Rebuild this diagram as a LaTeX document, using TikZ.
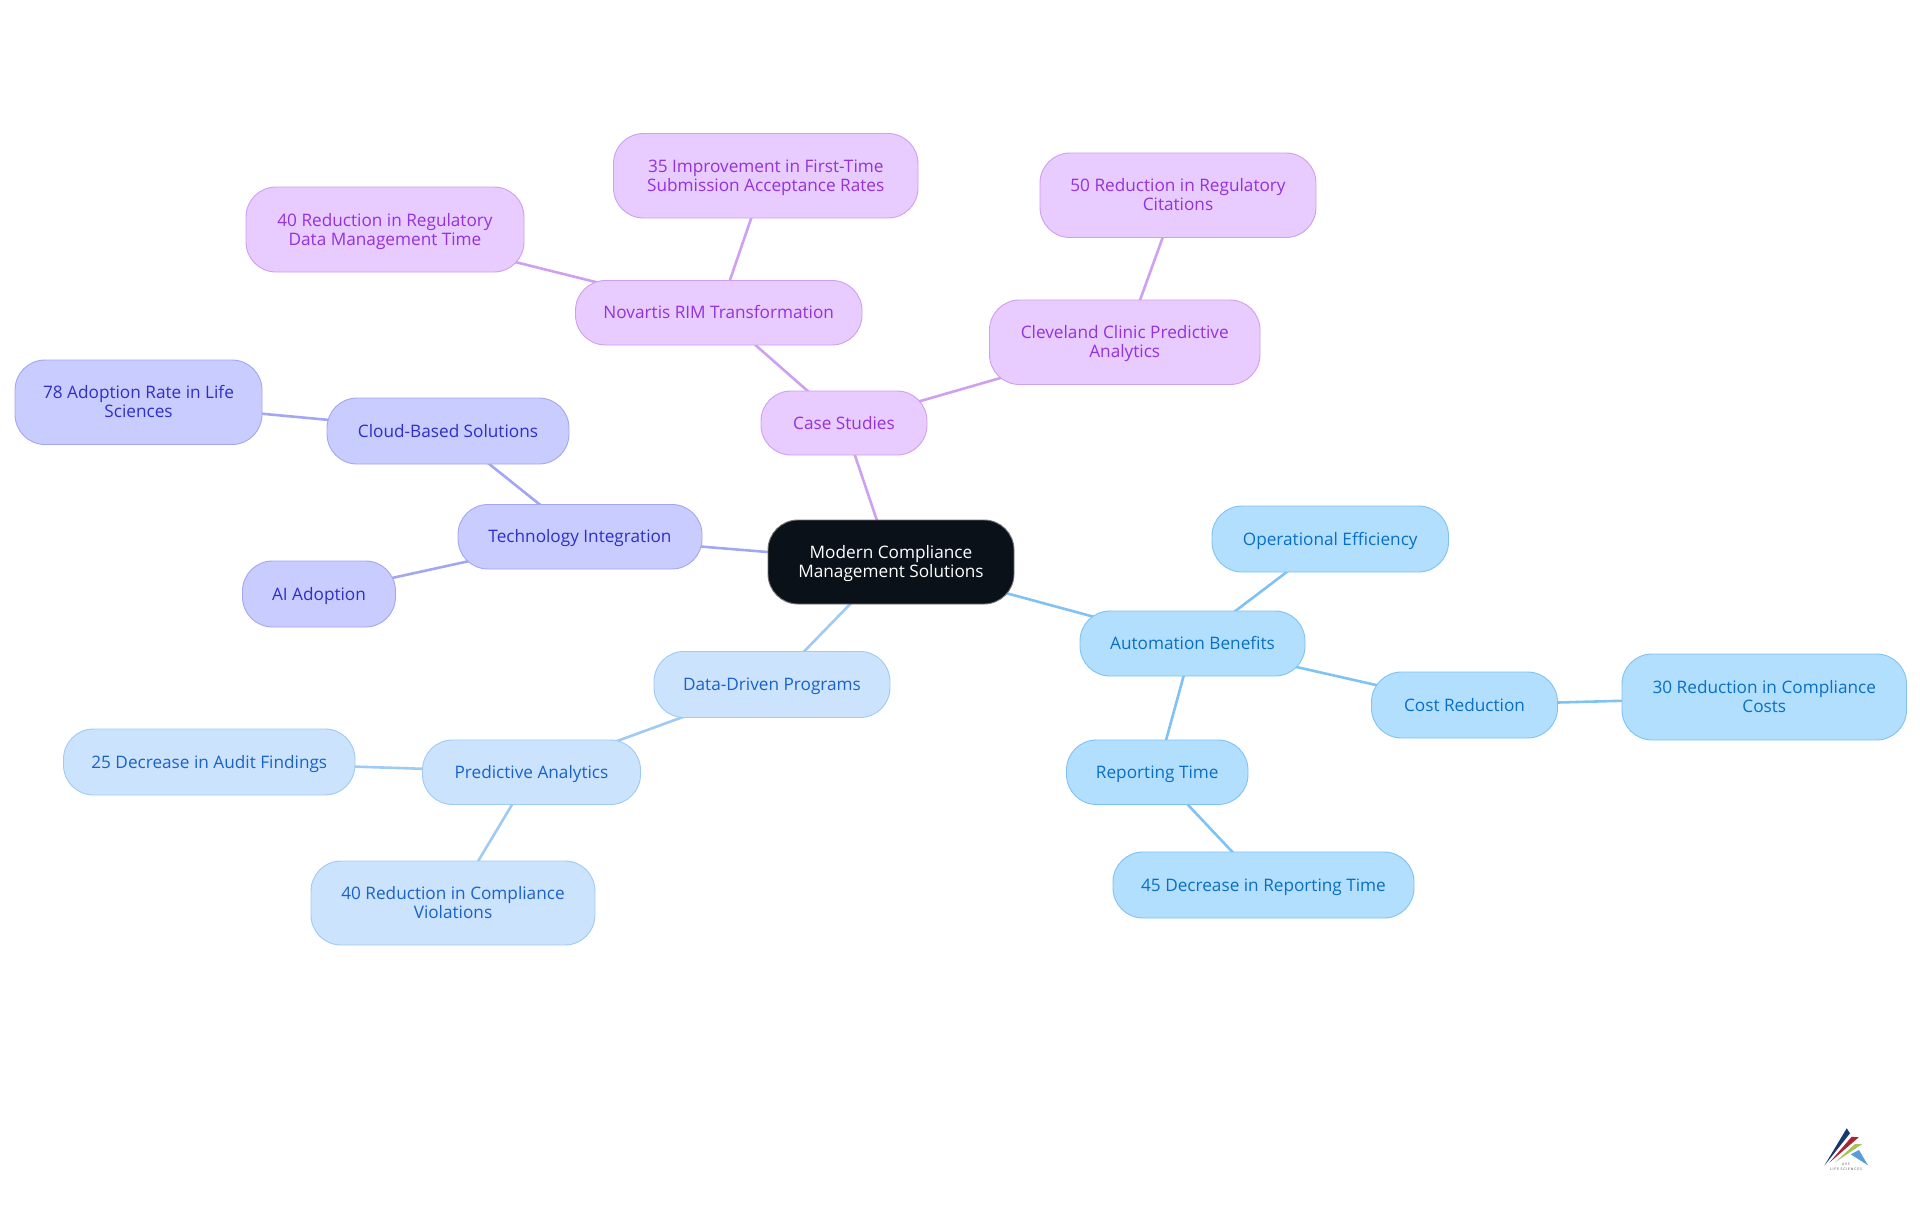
\documentclass[tikz,border=0pt]{standalone}
\usepackage{fontspec}
\setmainfont{Open Sans}
\newfontfamily\logofont[LetterSpace=25]{Open Sans}
\usetikzlibrary{backgrounds}
\definecolor{cblue}{HTML}{B3DFFF}\definecolor{dblue}{HTML}{7FC2F3}\definecolor{tblue}{HTML}{0A6FC2}
\definecolor{clight}{HTML}{CCE3FD}\definecolor{dlight}{HTML}{9FCAF4}\definecolor{tlight}{HTML}{1A62C9}
\definecolor{cind}{HTML}{C9CCFE}\definecolor{dind}{HTML}{A3A6F3}\definecolor{tind}{HTML}{2F2FC8}
\definecolor{cpur}{HTML}{E8CBFF}\definecolor{dpur}{HTML}{CF9FF0}\definecolor{tpur}{HTML}{9333DB}
\definecolor{cdark}{HTML}{0B1119}
\definecolor{logonavy}{RGB}{22,58,112}\definecolor{logored}{RGB}{170,35,55}
\definecolor{logogreen}{RGB}{165,195,90}\definecolor{logoblue}{RGB}{90,155,220}
\tikzset{x=1pt,y=-1pt,
 mapbox/.style={rounded corners=30pt,line width=0.9pt,inner sep=0pt,align=center,text height=13.5pt,text depth=1.5pt,font=\fontsize{17.2}{19}\selectfont},
 twoline/.style={text height=32.5pt},
 autobox/.style={mapbox,draw=dblue,fill=cblue,text=tblue},
 databox/.style={mapbox,draw=dlight,fill=clight,text=tlight},
 techbox/.style={mapbox,draw=dind,fill=cind,text=tind},
 casebox/.style={mapbox,draw=dpur,fill=cpur,text=tpur},
 rootbox/.style={mapbox,draw=black!55,fill=cdark,text=white},
 autoline/.style={dblue,line width=2.6pt},
 dataline/.style={dlight,line width=2.6pt},
 techline/.style={dind,line width=2.6pt},
 caseline/.style={dpur,line width=2.6pt},
 logotextstyle/.style={inner sep=0pt,font=\logofont\fontsize{3.4}{5}\selectfont,text=black!75,align=center}}
\newcommand{\mapnode}[7]{\node[#2,minimum width=#5pt-#3pt,minimum height=#6pt-#4pt] (#1) at ({(#3+#5)/2},{(#4+#6)/2}) {#7};}
\begin{document}
\begin{tikzpicture}
\useasboundingbox (0,0) rectangle (1920,1215);
\mapnode{root}{rootbox,twoline}{768}{520}{1014}{604}{Modern Compliance\\Management Solutions}
\mapnode{case}{casebox}{761}{391}{927}{455}{Case Studies}
\mapnode{novartis}{casebox}{575.5}{280.5}{862}{345}{Novartis RIM Transformation}
\mapnode{first}{casebox,twoline}{613.5}{133.5}{918}{218}{35 Improvement in First-Time\\Submission Acceptance Rates}
\mapnode{regdata}{casebox,twoline}{246}{187}{524}{272}{40 Reduction in Regulatory\\Data Management Time}
\mapnode{cleveland}{casebox,twoline}{989.5}{300}{1260}{384.5}{Cleveland Clinic Predictive\\Analytics}
\mapnode{citations}{casebox,twoline}{1040}{153}{1316}{237.5}{50 Reduction in Regulatory\\Citations}
\mapnode{tech}{techbox}{458}{504.5}{702}{569}{Technology Integration}
\mapnode{cloud}{techbox}{327}{398}{569}{464}{Cloud-Based Solutions}
\mapnode{adoption}{techbox,twoline}{15}{360}{262}{444.5}{78 Adoption Rate in Life\\Sciences}
\mapnode{ai}{techbox}{242.5}{561}{395.5}{627}{AI Adoption}
\mapnode{data}{databox}{654}{651.5}{890}{717.5}{Data-Driven Programs}
\mapnode{pred}{databox}{422.5}{740}{640.5}{804.5}{Predictive Analytics}
\mapnode{audit}{databox}{63.5}{729}{355}{795}{25 Decrease in Audit Findings}
\mapnode{viol}{databox,twoline}{311}{861}{595}{945}{40 Reduction in Compliance\\Violations}
\mapnode{auto}{autobox}{1080}{611}{1305}{676}{Automation Benefits}
\mapnode{oper}{autobox}{1212}{506}{1448.5}{572}{Operational Efficiency}
\mapnode{cost}{autobox}{1371.5}{672}{1557.5}{738}{Cost Reduction}
\mapnode{costs}{autobox,twoline}{1622}{654}{1906.5}{740}{30 Reduction in Compliance\\Costs}
\mapnode{rep}{autobox}{1066.5}{740}{1248}{804.5}{Reporting Time}
\mapnode{reptime}{autobox}{1113}{852}{1414}{918}{45 Decrease in Reporting Time}
\begin{scope}[on background layer]
\draw[caseline] (root.center)--(case.center);
\draw[caseline] (case.center)--(novartis.center);
\draw[caseline] (novartis.center)--(first.center);
\draw[caseline] (novartis.center)--(regdata.center);
\draw[caseline] (case.center)--(cleveland.center);
\draw[caseline] (cleveland.center)--(citations.center);
\draw[techline] (root.center)--(tech.center);
\draw[techline] (tech.center)--(cloud.center);
\draw[techline] (cloud.center)--(adoption.center);
\draw[techline] (tech.center)--(ai.center);
\draw[dataline] (root.center)--(data.center);
\draw[dataline] (data.center)--(pred.center);
\draw[dataline] (pred.center)--(audit.center);
\draw[dataline] (pred.center)--(viol.center);
\draw[autoline] (root.center)--(auto.center);
\draw[autoline] (auto.center)--(oper.center);
\draw[autoline] (auto.center)--(cost.center);
\draw[autoline] (cost.center)--(costs.center);
\draw[autoline] (auto.center)--(rep.center);
\draw[autoline] (rep.center)--(reptime.center);
\end{scope}
% logo
\fill[logonavy] (1824.3,1165.7)--(1846.7,1128.3)--(1850,1133.3)--cycle;
\fill[logored] (1829.3,1162.7)--(1851.7,1136.7)--(1858.7,1137.3)--cycle;
\fill[logogreen] (1835,1162.3)--(1855,1144)--(1862.3,1144)--cycle;
\fill[logoblue] (1859,1150)--(1850.7,1154.3)--(1868,1165.3)--cycle;
\node[logotextstyle] (logotext) at (1846,1166.5) {AVS\\LIFE SCIENCES};
\end{tikzpicture}
\end{document}
